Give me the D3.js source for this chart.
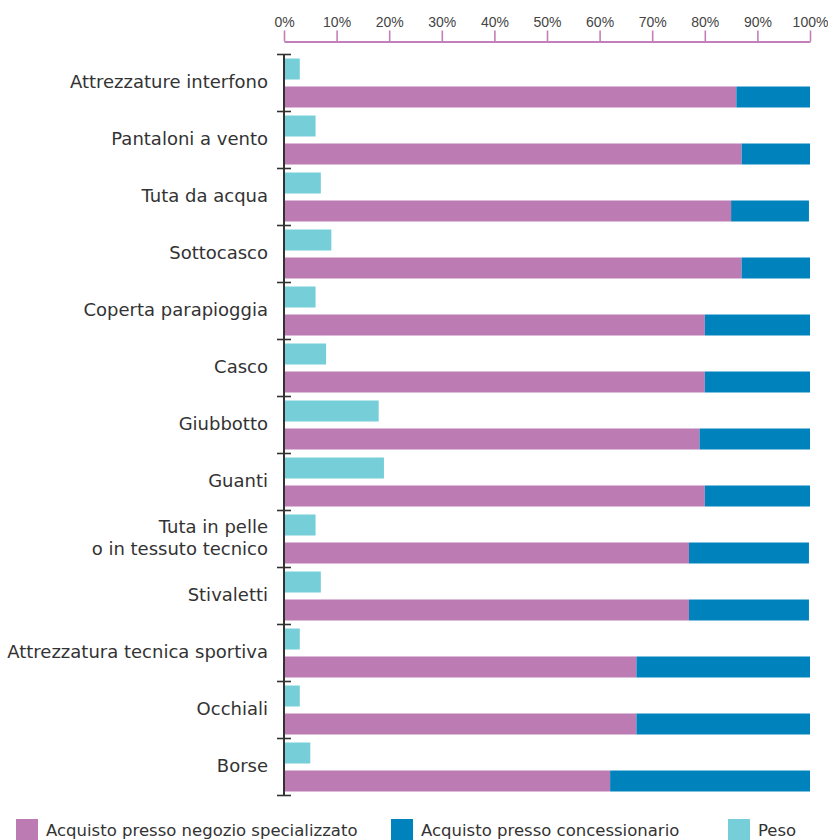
<!DOCTYPE html>
<html>
<head>
<meta charset="utf-8">
<script src="https://cdn.jsdelivr.net/npm/d3@7"></script>
<style>
  html, body { margin: 0; padding: 0; background: #fff; }
  svg { display: block; font-family: "DejaVu Sans", "Liberation Sans", Arial, sans-serif; }
</style>
</head>
<body>
<svg id="chart" width="828" height="840"></svg>
<script>
// Categories, top to bottom
const categories = [
  "Attrezzature interfono",
  "Pantaloni a vento",
  "Tuta da acqua",
  "Sottocasco",
  "Coperta parapioggia",
  "Casco",
  "Giubbotto",
  "Guanti",
  "Tuta in pelle\no in tessuto tecnico",
  "Stivaletti",
  "Attrezzatura tecnica sportiva",
  "Occhiali",
  "Borse"
];

// Share of purchases (%) per channel
const negozioSpecializzato = [86, 87, 85, 87, 80, 80, 79, 80, 77, 77, 67, 67, 62];
const concessionario       = [14, 13, 14.8, 13, 20, 20, 21, 20, 22.8, 22.8, 33, 33, 38];
// Weight of each category (%)
const peso                 = [3, 6, 7, 9, 6, 8, 18, 19, 6, 7, 3, 3, 5];

const tickValues = [0, 10, 20, 30, 40, 50, 60, 70, 80, 90, 100];

const seriesNames = [
  "Acquisto presso negozio specializzato",
  "Acquisto presso concessionario",
  "Peso"
];
const colors = {
  negozio: "#bd7bb4",
  concessionario: "#0083bd",
  peso: "#75ced8",
  axisTop: "#c27fba",
  axisLeft: "#333333",
  text: "#333333"
};

const svg = d3.select("#chart");

const x = d3.scaleLinear().domain([0, 100]).range([284, 810]);
const y = d3.scaleBand().domain(categories).range([54.5, 795.5]);
const sub = d3.scaleBand()
  .domain(["peso", "acquisto"])
  .range([0, y.bandwidth()])
  .paddingInner(0.25)
  .paddingOuter(0.143);

// Top percentage axis
const xAxis = d3.axisTop(x)
  .tickValues(tickValues)
  .tickFormat(d => d + "%")
  .tickSize(11)
  .tickSizeOuter(0);
const gx = svg.append("g").attr("transform", "translate(0,41.5)").call(xAxis);
gx.select(".domain").attr("stroke", colors.axisTop).attr("stroke-width", 2);
gx.selectAll(".tick line").attr("stroke", colors.axisTop).attr("stroke-width", 1.6);
gx.selectAll(".tick text")
  .attr("fill", "#444")
  .attr("font-family", "'Liberation Sans', Arial, sans-serif")
  .attr("font-size", 14)
  .attr("dy", "-0.05em");

// Rows
const rows = svg.append("g").selectAll("g.row")
  .data(categories.map((c, i) => ({
    cat: c,
    neg: negozioSpecializzato[i],
    con: concessionario[i],
    peso: peso[i]
  })))
  .join("g")
  .attr("class", "row")
  .attr("transform", d => `translate(0,${y(d.cat)})`);

rows.append("rect")
  .attr("x", x(0))
  .attr("y", sub("peso"))
  .attr("width", d => x(d.peso) - x(0))
  .attr("height", sub.bandwidth())
  .attr("fill", colors.peso);

rows.append("rect")
  .attr("x", x(0))
  .attr("y", sub("acquisto"))
  .attr("width", d => x(d.neg) - x(0))
  .attr("height", sub.bandwidth())
  .attr("fill", colors.negozio);

rows.append("rect")
  .attr("x", d => x(d.neg))
  .attr("y", sub("acquisto"))
  .attr("width", d => x(d.neg + d.con) - x(d.neg))
  .attr("height", sub.bandwidth())
  .attr("fill", colors.concessionario);

// Left category axis: vertical line with ticks at band boundaries
const left = svg.append("g");
const edges = categories.map(c => y(c)).concat([y.range()[1]]);
left.append("line")
  .attr("x1", x(0)).attr("x2", x(0))
  .attr("y1", edges[0]).attr("y2", edges[edges.length - 1])
  .attr("stroke", colors.axisLeft).attr("stroke-width", 2);
left.selectAll("line.edge")
  .data(edges)
  .join("line")
  .attr("class", "edge")
  .attr("x1", x(0) - 7).attr("x2", x(0) + 7)
  .attr("y1", d => d).attr("y2", d => d)
  .attr("stroke", colors.axisLeft).attr("stroke-width", 1.6);

// Category labels
const labels = svg.append("g")
  .attr("font-size", 18)
  .attr("fill", colors.text)
  .attr("text-anchor", "end");
categories.forEach(c => {
  const lines = c.split("\n");
  const cy = y(c) + y.bandwidth() / 2 - 1.5;
  const lh = 22;
  const t = labels.append("text").attr("x", 268);
  lines.forEach((ln, k) => {
    t.append("tspan")
      .attr("x", 268)
      .attr("y", cy + (k - (lines.length - 1) / 2) * lh)
      .attr("dy", "0.35em")
      .text(ln);
  });
});

// Legend
const legendX = [16, 391, 728];
const legendColors = [colors.negozio, colors.concessionario, colors.peso];
const legend = svg.append("g").selectAll("g")
  .data(seriesNames)
  .join("g")
  .attr("transform", (d, i) => `translate(${legendX[i]},819)`);
legend.append("rect")
  .attr("width", 22).attr("height", 22)
  .attr("fill", (d, i) => legendColors[i]);
legend.append("text")
  .attr("x", 30).attr("y", 16.5)
  .attr("font-size", 16.5)
  .attr("fill", colors.text)
  .text(d => d);
</script>
</body>
</html>
